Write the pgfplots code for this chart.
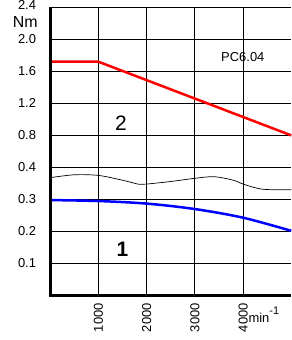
\documentclass[border=0pt]{standalone}
\usepackage{fontspec}
\setmainfont{Liberation Sans}
\usepackage{pgfplots}
\usepackage{pgfplotstable}
\pgfplotsset{compat=1.18}
\pgfplotstableread{
n T
0 1.72
1000 1.72
5000 0.80
}\uppertab
\pgfplotstableread{
n T
0 0.298
1000 0.295
2000 0.287
3000 0.270
4000 0.243
5000 0.202
}\lowertab
\pgfplotstableread{
n y
0 3.68
500 3.77
1000 3.75
1500 3.60
1850 3.47
2000 3.48
2500 3.56
3000 3.66
3400 3.71
3800 3.60
4000 3.48
4400 3.32
5000 3.30
}\wavetab
\begin{document}
\fontsize{13}{15}\selectfont
\begin{tikzpicture}
\begin{axis}[name=ax, scale only axis, width=241bp, height=288.2bp,
  xmin=0, xmax=5000, ymin=0, ymax=9,
  xtick={1000,2000,3000,4000}, xticklabels={1000,2000,3000,4000},
  ytick={1,...,9},
  yticklabels={0.1,0.2,0.3,0.4,0.8,1.2,1.6,2.0,},
  major tick length=0pt,
  grid=major, major grid style={black, line width=0.8bp},
  axis line style={draw=none},
  /pgf/number format/assume math mode=true,
  xticklabel style={rotate=90, anchor=east, inner xsep=7.5bp, inner ysep=0pt},
  yticklabel style={anchor=east, inner xsep=14bp, inner ysep=0pt},
  ticklabel style={font=\fontsize{13}{15}\selectfont},
  clip=false,
]
\addplot[black, line width=0.7bp, smooth] table[x=n, y=y] {\wavetab};
\addplot[red, line width=2.5bp] table[x=n, y expr={4+(\thisrow{T}-0.4)/0.4}] {\uppertab};
\addplot[blue, line width=2.5bp, smooth] table[x=n, y expr={10*\thisrow{T}}] {\lowertab};
\draw[line width=3bp] (rel axis cs:0,1) -- (rel axis cs:0,0) -- (rel axis cs:1,0);
\node[anchor=east, inner xsep=14bp, inner ysep=0pt] at (axis cs:0,9.07) {2.4};
\node[anchor=east, inner xsep=12.5bp, inner ysep=0pt] at (axis cs:0,8.55) {\fontsize{16}{18}\selectfont Nm};
\node[inner sep=0pt] at (axis cs:3995,7.44) {PC6.04};
\node[inner sep=0pt] at (axis cs:1466,5.38) {\fontsize{21}{24}\selectfont 2};
\node[inner sep=0pt] at (axis cs:1500,1.44) {\fontsize{21}{24}\selectfont\bfseries 1};
\node[anchor=base west, inner sep=0pt, yshift=-26.5bp] at (axis cs:4110,0) {min\raisebox{8bp}{\fontsize{11}{13}\selectfont -1}};
\end{axis}
\pgfresetboundingbox
\path[use as bounding box] ([shift={(-50.25bp,-44.5bp)}]ax.south west) rectangle ([shift={(0bp,7.3bp)}]ax.north east);
\end{tikzpicture}
\end{document}
